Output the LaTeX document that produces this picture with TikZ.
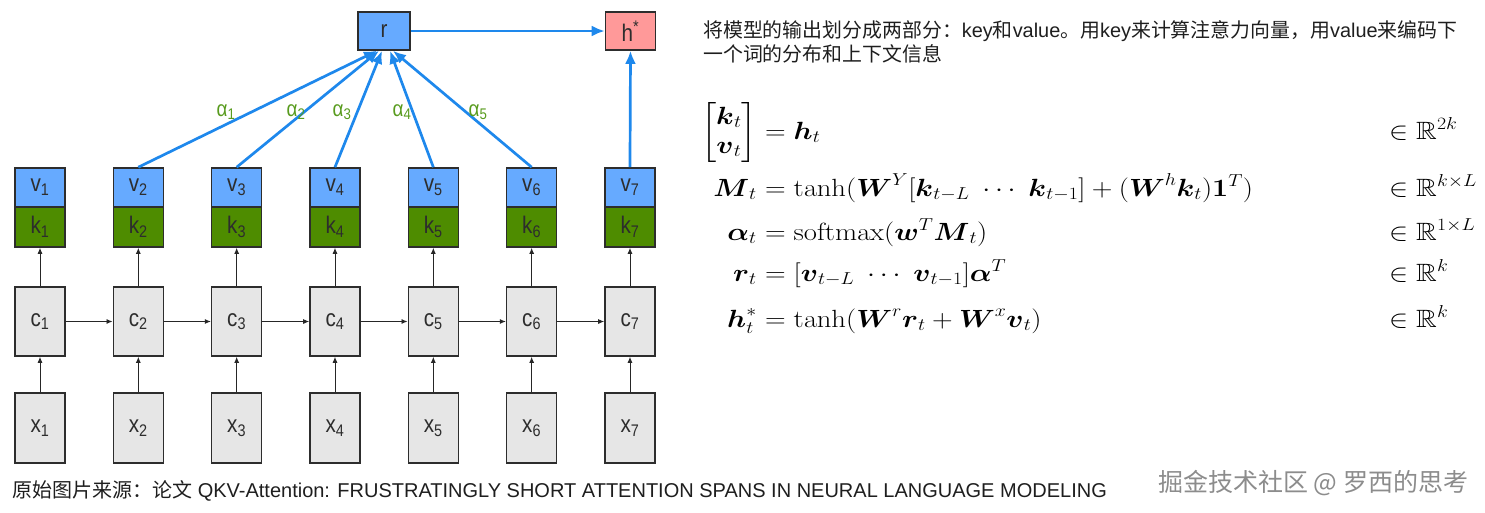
\documentclass[tikz,border=0pt]{standalone}
\usepackage[no-math]{fontspec}
\usepackage{amsmath,amssymb}
\setmainfont{Liberation Sans}
\newfontfamily\cjk{Noto Sans CJK SC}
\newfontfamily\boxfont[FakeStretch=0.86]{Liberation Sans}
\usetikzlibrary{arrows.meta}
\definecolor{vblue}{RGB}{102,170,255}
\definecolor{kgreen}{RGB}{78,140,0}
\definecolor{cgray}{RGB}{230,230,230}
\definecolor{hpink}{RGB}{255,153,153}
\definecolor{arrowblue}{RGB}{30,136,236}
\definecolor{alphagreen}{RGB}{88,155,30}
\definecolor{bordergray}{RGB}{45,45,45}
\definecolor{txtgray}{RGB}{45,45,45}
\definecolor{captext}{RGB}{30,30,30}
\definecolor{wmgray}{RGB}{140,140,140}
\newcommand{\eqs}[1]{\scalebox{1.15}[1]{#1}}
\begin{document}
\begin{tikzpicture}[x=1pt,y=-1pt,
  cell/.style={draw=bordergray, line width=1.6pt, inner sep=0pt, text=txtgray,
    font=\boxfont\fontsize{24}{26}\selectfont},
  vcell/.style={cell, fill=vblue, minimum width=50pt, minimum height=39pt},
  kcell/.style={cell, fill=kgreen, minimum width=50pt, minimum height=40pt},
  ccell/.style={cell, fill=cgray, minimum width=50pt, minimum height=69pt},
  xcell/.style={cell, fill=cgray, minimum width=50pt, minimum height=70pt},
  topcell/.style={cell, minimum width=52pt, minimum height=38pt},
  bluearrow/.style={draw=arrowblue, line width=2.7pt, -{Latex[length=13pt,width=11pt]}},
  smallarrow/.style={draw=black!85, line width=0.9pt, -{Latex[length=6pt,width=5pt]}},
  alphalab/.style={text=alphagreen, font=\boxfont\fontsize{22}{24}\selectfont, inner sep=0pt},
  desc/.style={anchor=north west, align=left, inner sep=0pt, text=captext,
    font=\fontsize{19.9}{24}\selectfont},
  eq/.style={inner sep=0pt, text=black, font=\fontsize{25}{29}\selectfont},
  caption/.style={anchor=base west, inner sep=0pt, text=captext,
    font=\fontsize{20}{23}\selectfont},
  watermark/.style={anchor=base west, inner sep=0pt, text=wmgray,
    font=\cjk\fontsize{25}{28}\selectfont}
]
\path[use as bounding box] (0,0) rectangle (1485,512);

% columns
\foreach \i in {1,...,7} {
  \pgfmathsetmacro\cx{40+(\i-1)*98.33}
  \node[vcell] (v\i) at (\cx,187.5) {v\textsubscript{\i}};
  \node[kcell] (k\i) at (\cx,227) {k\textsubscript{\i}};
  \node[ccell] (c\i) at (\cx,321.5) {c\textsubscript{\i}};
  \node[xcell] (x\i) at (\cx,428) {x\textsubscript{\i}};
}
\foreach \i in {1,...,7} {
  \draw[smallarrow] (c\i.north) -- (k\i.south);
  \draw[smallarrow] (x\i.north) -- (c\i.south);
}
\foreach \i [evaluate=\i as \j using int(\i+1)] in {1,...,6}
  \draw[smallarrow] (c\i.east) -- (c\j.west);

% top nodes
\node[topcell, fill=vblue] (r) at (384,31) {r};
\node[topcell, fill=hpink, minimum width=50pt] (hs) at (630.5,31) {h\textsuperscript{*}};

\draw[bluearrow] (r.east) -- (hs.west);
\draw[bluearrow] (v7.north) -- (hs.south);
\draw[bluearrow] (v2.north) -- ([xshift=-7pt]r.south);
\draw[bluearrow] (v3.north) -- ([xshift=-5pt]r.south);
\draw[bluearrow] (v4.north) -- ([xshift=-2pt]r.south);
\draw[bluearrow] (v5.north) -- ([xshift=6pt]r.south);
\draw[bluearrow] (v6.north) -- ([xshift=9pt]r.south);

\node[alphalab] (a1) at (226,112) {α\textsubscript{1}};
\node[alphalab] (a2) at (296,112) {α\textsubscript{2}};
\node[alphalab] (a3) at (342,112) {α\textsubscript{3}};
\node[alphalab] (a4) at (402,112) {α\textsubscript{4}};
\node[alphalab] (a5) at (478,112) {α\textsubscript{5}};

% description
\node[desc] (d) at (703,20) {{\cjk 将模型的输出划分成两部分：}key{\cjk 和}value{\cjk 。用}key{\cjk 来计算注意力向量，用}value{\cjk 来编码下}\\
{\cjk 一个词的分布和上下文信息}};

% equations
\node[eq, anchor=base east] (e1l) at (757,139) {\eqs{$\begin{bmatrix}\boldsymbol{k}_t\\ \boldsymbol{v}_t\end{bmatrix}$}};
\node[eq, anchor=base west] (e1r) at (757,139) {\eqs{${}=\boldsymbol{h}_t$}};
\node[eq, anchor=base west] (e1s) at (1389,139) {\eqs{$\in\mathbb{R}^{2k}$}};

\node[eq, anchor=base east] (e2l) at (757,196) {\eqs{$\boldsymbol{M}_t$}};
\node[eq, anchor=base west] (e2r) at (757,196) {\eqs{${}=\tanh(\boldsymbol{W}^Y[\boldsymbol{k}_{t-L}\ \cdots\ \boldsymbol{k}_{t-1}]+(\boldsymbol{W}^h\boldsymbol{k}_t)\mathbf{1}^T)$}};
\node[eq, anchor=base west] (e2s) at (1389,196) {\eqs{$\in\mathbb{R}^{k\times L}$}};

\node[eq, anchor=base east] (e3l) at (757,240) {\eqs{$\boldsymbol{\alpha}_t$}};
\node[eq, anchor=base west] (e3r) at (757,240) {\eqs{${}=\operatorname{softmax}(\boldsymbol{w}^T\boldsymbol{M}_t)$}};
\node[eq, anchor=base west] (e3s) at (1389,240) {\eqs{$\in\mathbb{R}^{1\times L}$}};

\node[eq, anchor=base east] (e4l) at (757,281) {\eqs{$\boldsymbol{r}_t$}};
\node[eq, anchor=base west] (e4r) at (757,281) {\eqs{${}=[\boldsymbol{v}_{t-L}\ \cdots\ \boldsymbol{v}_{t-1}]\boldsymbol{\alpha}^T$}};
\node[eq, anchor=base west] (e4s) at (1389,281) {\eqs{$\in\mathbb{R}^{k}$}};

\node[eq, anchor=base east] (e5l) at (757,327) {\eqs{$\boldsymbol{h}^*_t$}};
\node[eq, anchor=base west] (e5r) at (757,327) {\eqs{${}=\tanh(\boldsymbol{W}^r\boldsymbol{r}_t+\boldsymbol{W}^x\boldsymbol{v}_t)$}};
\node[eq, anchor=base west] (e5s) at (1389,327) {\eqs{$\in\mathbb{R}^{k}$}};

% caption and watermark
\node[caption] (cap) at (12,497) {{\cjk 原始图片来源：论文} QKV-Attention: FRUSTRATINGLY SHORT ATTENTION SPANS IN NEURAL LANGUAGE MODELING};
\node[watermark] (wm) at (1158,491) {掘金技术社区 @ 罗西的思考};
\end{tikzpicture}
\end{document}
